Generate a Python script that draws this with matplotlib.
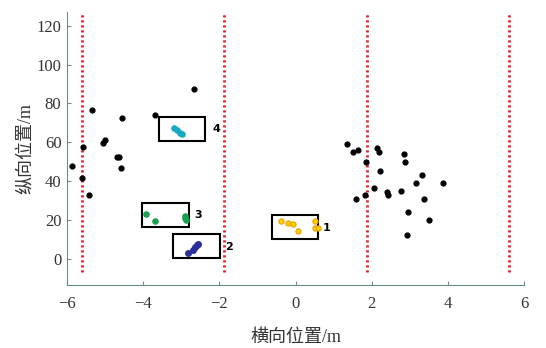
import matplotlib
matplotlib.use("Agg")
import matplotlib.pyplot as plt
from matplotlib.patches import Rectangle

plt.rcParams['font.family'] = ['Liberation Serif', 'Noto Sans CJK SC']

# lane lines (lateral position, m)
lane_x = [-5.6, -1.87, 1.87, 5.6]

# unclustered radar points
other_x = [-5.86, -5.58, -5.60, -5.42, -5.34, -5.05, -5.01, -4.68, -4.64, -4.59, -4.55,
           -3.70, -2.67,
           1.34, 1.50, 1.64, 1.86, 2.13, 2.19, 2.21, 2.84, 2.86, 3.32, 3.16, 3.87,
           2.06, 2.40, 2.42, 2.78, 1.83, 1.58, 3.38, 2.94, 3.51, 2.92]
other_y = [47.8, 57.6, 41.7, 33.2, 76.6, 59.8, 61.0, 52.5, 52.3, 47.0, 72.7,
           74.2, 87.2,
           59.1, 54.9, 56.1, 49.7, 57.3, 55.0, 45.5, 54.0, 50.1, 43.1, 39.1, 39.1,
           36.8, 34.5, 32.8, 35.0, 32.8, 31.1, 31.1, 24.3, 20.2, 12.5]

# clustered targets
t1_x = [-0.38, -0.21, -0.07, 0.07, 0.52, 0.52, 0.60]
t1_y = [19.6, 18.8, 17.8, 14.7, 19.5, 15.9, 16.2]
t2_x = [-2.83, -2.69, -2.64, -2.60, -2.55]
t2_y = [3.4, 4.6, 6.0, 7.2, 8.0]
t3_x = [-3.92, -3.69, -2.91, -2.90, -2.88]
t3_y = [23.2, 19.8, 22.2, 20.9, 20.0]
t4_x = [-3.18, -3.10, -3.03, -2.97]
t4_y = [67.3, 66.2, 65.0, 64.1]

# bounding boxes: (x0, y0, x1, y1)
boxes = [(-0.63, 10.4, 0.60, 22.7), (-3.21, 0.4, -1.98, 12.8),
         (-4.03, 16.4, -2.79, 29.1), (-3.59, 60.8, -2.37, 73.2)]
box_labels = ['1', '2', '3', '4']
label_pos = [(0.71, 16.1), (-1.86, 6.3), (-2.66, 22.6), (-2.19, 66.8)]

fig = plt.figure(figsize=(5.46, 3.48), dpi=100)
ax = fig.add_axes([0.1227, 0.181, 0.8373, 0.7845])

ax.vlines(lane_x, -6.5, 126, colors='#e8202a', linestyles=(0, (0.8, 1.0)), linewidth=2)

ax.scatter(other_x, other_y, s=12, color='black', zorder=3)
ax.scatter(t1_x, t1_y, s=14, color='#f7d300', edgecolors='#f09a00', linewidths=0.8, zorder=3)
ax.scatter(t2_x, t2_y, s=16, color='#2b2f9a', zorder=3)
ax.scatter(t3_x, t3_y, s=14, color='#1aa050', zorder=3)
ax.scatter(t4_x, t4_y, s=14, color='#17a9c4', zorder=3)

for (x0, y0, x1, y1), lab, (lx, ly) in zip(boxes, box_labels, label_pos):
    ax.add_patch(Rectangle((x0, y0), x1 - x0, y1 - y0, fill=False,
                           edgecolor='black', linewidth=1.5, zorder=2))
    ax.text(lx, ly, lab, fontsize=8, fontweight='bold', family='DejaVu Sans',
            va='center', ha='left')

ax.set_xlim(-6, 6)
ax.set_ylim(-13.3, 127)
ax.set_xticks([-6, -4, -2, 0, 2, 4, 6])
ax.set_yticks([0, 20, 40, 60, 80, 100, 120])
ax.set_xticklabels(['\u22126', '\u22124', '\u22122', '0', '2', '4', '6'])

for s in ['top', 'right']:
    ax.spines[s].set_visible(False)
for s in ['left', 'bottom']:
    ax.spines[s].set_color('#6f8a8a')
ax.tick_params(direction='in', length=3, color='#6f8a8a', labelsize=12,
               labelcolor='#333333')
ax.tick_params(axis='x', pad=8)
ax.tick_params(axis='y', pad=4)

ax.set_xlabel('横向位置/m', fontsize=13, color='#333333', labelpad=12)
ax.set_ylabel('纵向位置/m', fontsize=13, color='#333333', labelpad=2)

fig.savefig('out.png', dpi=100)
